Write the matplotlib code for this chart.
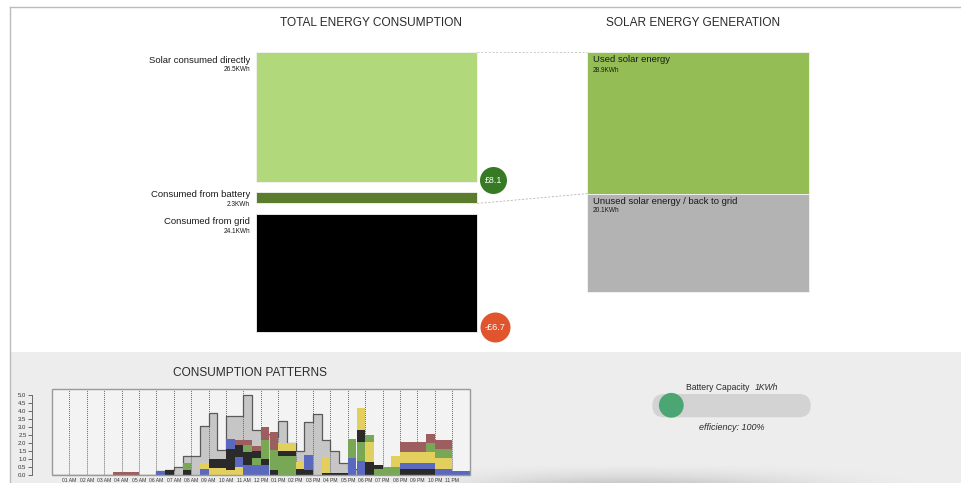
import numpy as np
import matplotlib
matplotlib.use('Agg')
import matplotlib.pyplot as plt
from matplotlib.patches import FancyBboxPatch, Rectangle, Circle

plt.rcParams['font.family'] = ['Liberation Sans', 'DejaVu Sans']

# ---------------- data ----------------
consumption_labels = ['Solar consumed directly', 'Consumed from battery', 'Consumed from grid']
consumption_kwh = [26.5, 2.3, 24.1]
consumption_colors = ['#b2d87c', '#5b7c2c', '#000000']

generation_labels = ['Used solar energy', 'Unused solar energy / back to grid']
generation_kwh = [28.9, 20.1]
generation_colors = ['#94be55', '#b3b3b3']

savings_label = '£8.1'
cost_label = '-£6.7'
battery_capacity = '1KWh'
efficiency_label = 'efficiency: 100%'

hour_labels = ['01 AM', '02 AM', '03 AM', '04 AM', '05 AM', '06 AM', '07 AM', '08 AM',
               '09 AM', '10 AM', '11 AM', '12 PM', '01 PM', '02 PM', '03 PM', '04 PM',
               '05 PM', '06 PM', '07 PM', '08 PM', '09 PM', '10 PM', '11 PM']
y_ticks = [0.0, 0.5, 1.0, 1.5, 2.0, 2.5, 3.0, 3.5, 4.0, 4.5, 5.0]

# half-hour bins, 00:00 .. 23:30
solar_generation = [0, 0, 0, 0, 0, 0, 0, 0, 0, 0, 0, 0,
                    0.28, 0.33, 0.5, 1.2, 1.2, 3.05, 3.85, 1.57, 3.68, 3.68, 4.98, 2.82,
                    2.6, 2.4, 3.4, 2.0, 1.51, 3.3, 3.82, 2.2, 1.5, 0.75, 0.4, 0,
                    0, 0, 0, 0, 0, 0, 0, 0, 0, 0, 0, 0]

load_black_a = [0, 0, 0, 0, 0, 0, 0, 0, 0, 0, 0, 0,
                0, 0.3, 0, 0.3, 0, 0, 0, 0, 0, 0, 0, 0,
                0, 0.35, 0, 0, 0.37, 0.35, 0, 0.17, 0.15, 0.15, 0, 0,
                0.8, 0, 0, 0, 0.41, 0.41, 0.41, 0.4, 0, 0, 0, 0]
load_blue_a = [0, 0, 0, 0, 0, 0, 0, 0, 0, 0, 0, 0,
               0.25, 0, 0, 0, 0, 0.37, 0, 0, 0, 0, 0.64, 0.65,
               0.64, 0, 0, 0, 0, 0.92, 0, 0, 0, 0, 1.06, 0.89,
               0, 0, 0, 0, 0.37, 0.37, 0.37, 0.38, 0.41, 0.41, 0.27, 0.27]
load_yellow_a = [0, 0, 0, 0, 0, 0, 0, 0, 0, 0, 0, 0,
                 0, 0, 0, 0, 0, 0.4, 0.43, 0.43, 0.35, 0.5, 0, 0,
                 0, 0, 0, 0, 0.45, 0, 0, 0.95, 0, 0, 0, 0,
                 1.3, 0, 0, 0, 0.67, 0.67, 0.67, 0.66, 0.68, 0.68, 0, 0]
load_black_b = [0, 0, 0, 0, 0, 0, 0, 0, 0, 0, 0, 0,
                0, 0, 0, 0, 0, 0, 0.57, 0.57, 1.27, 0, 0.83, 0,
                0.37, 0, 0, 0, 0, 0, 0, 0, 0, 0, 0, 0,
                0, 0, 0, 0, 0, 0, 0, 0, 0, 0, 0, 0]
load_blue_b = [0, 0, 0, 0, 0, 0, 0, 0, 0, 0, 0, 0,
               0, 0, 0, 0, 0, 0, 0, 0, 0.64, 0.62, 0, 0,
               0, 0, 0, 0, 0, 0, 0, 0, 0, 0, 0, 0,
               0, 0, 0, 0, 0, 0, 0, 0, 0, 0, 0, 0]
load_green_a = [0, 0, 0, 0, 0, 0, 0, 0, 0, 0, 0, 0,
                0, 0, 0, 0.47, 0, 0, 0, 0, 0, 0, 0.42, 0.45,
                1.2, 1.25, 1.2, 1.2, 0, 0, 0, 0, 0, 0, 1.2, 1.2,
                0.38, 0.42, 0.53, 0.53, 0, 0, 0, 0.6, 0.55, 0.55, 0, 0]
load_black_c = [0, 0, 0, 0, 0, 0, 0, 0, 0, 0, 0, 0,
                0, 0, 0, 0, 0, 0, 0, 0, 0, 0.77, 0, 0.4,
                0, 0, 0.33, 0.33, 0, 0, 0, 0, 0, 0, 0, 0.73,
                0, 0.25, 0, 0, 0, 0, 0, 0, 0, 0, 0, 0]
load_yellow_b = [0, 0, 0, 0, 0, 0, 0, 0, 0, 0, 0, 0,
                 0, 0, 0, 0, 0, 0, 0, 0, 0, 0, 0, 0,
                 0, 0, 0.5, 0.5, 0, 0, 0, 0, 0, 0, 0, 1.35,
                 0, 0, 0, 0.69, 0, 0, 0, 0, 0, 0, 0, 0]
load_brown = [0, 0, 0, 0, 0, 0, 0, 0.18, 0.18, 0.18, 0, 0,
              0, 0, 0, 0, 0, 0, 0, 0, 0, 0.31, 0.31, 0.3,
              0.78, 1.12, 0, 0, 0, 0, 0, 0, 0, 0, 0, 0,
              0, 0, 0, 0, 0.62, 0.62, 0.62, 0.55, 0.57, 0.57, 0, 0]

BLUE, YELLOW, BLACK, GREEN, BROWN = '#5a68bd', '#e3cf5e', '#2a2a2a', '#78a855', '#9c5e5e'
load_series = [(load_black_a, BLACK), (load_blue_a, BLUE), (load_yellow_a, YELLOW),
               (load_black_b, BLACK), (load_blue_b, BLUE), (load_green_a, GREEN),
               (load_black_c, BLACK), (load_yellow_b, YELLOW), (load_brown, BROWN)]

# ---------------- figure ----------------
W, H = 961, 483
fig = plt.figure(figsize=(W / 100, H / 100), dpi=100)
fig.patch.set_facecolor('white')

# page layer in pixel coordinates
pg = fig.add_axes([0, 0, 1, 1], zorder=0)
pg.set_xlim(0, W)
pg.set_ylim(H, 0)
pg.axis('off')

pg.add_patch(Rectangle((10.5, 352), W - 10.5, H - 352, color='#ededed', lw=0))
pg.plot([10, W], [7.3, 7.3], color='#bcbcbc', lw=1.0)
pg.plot([10, 10], [7.3, H], color='#bcbcbc', lw=1.0)

# bottom shadow
gx = np.linspace(0, 1, 300)
gy = np.linspace(0, 1, 30)
env = np.clip(np.sin(np.pi * gx) ** 0.8, 0, 1) * np.exp(-((gx - 0.3) ** 2) / 0.25)
alpha = (gy[:, None] ** 1.8) * env[None, :] * 0.16
shadow = np.zeros((30, 300, 4))
shadow[..., 3] = alpha
pg.imshow(shadow, extent=(430, 930, H, H - 22), aspect='auto', zorder=1, interpolation='bilinear')

pg.text(371, 23, 'TOTAL ENERGY CONSUMPTION', ha='center', va='center', fontsize=8.6, color='#2b2b2b')
pg.text(693, 23, 'SOLAR ENERGY GENERATION', ha='center', va='center', fontsize=8.6, color='#2b2b2b')
pg.text(250, 373, 'CONSUMPTION PATTERNS', ha='center', va='center', fontsize=8.6, color='#2b2b2b')

# ---------------- energy bars ----------------
PX_PER_KWH = 4.89
TOP_PX = 52.3
ax_top, ax_bot = 40, 345
ae = fig.add_axes([0, (H - ax_bot) / H, 1, (ax_bot - ax_top) / H], zorder=2)
ae.set_xlim(0, W)
ae.set_ylim((ax_bot - TOP_PX) / PX_PER_KWH, (ax_top - TOP_PX) / PX_PER_KWH)
ae.axis('off')
ae.patch.set_alpha(0)

gap = 10.3 / PX_PER_KWH
c_bottoms = []
acc = 0.0
for v in consumption_kwh:
    c_bottoms.append(acc)
    acc += v + gap
ae.bar(366.6, consumption_kwh, width=221, bottom=c_bottoms, color=consumption_colors,
       edgecolor='#f4f4f4', linewidth=0.6)
g_bottoms = list(np.cumsum([0] + generation_kwh[:-1]))
ae.bar(698.0, generation_kwh, width=221.4, bottom=g_bottoms, color=generation_colors,
       edgecolor='#f4f4f4', linewidth=0.6)

# connectors
ae.plot([477.2, 587.3], [0, 0], color='#c4c4c4', lw=0.6, ls=(0, (2.5, 2)))
ae.plot([477.2, 587.3], [c_bottoms[1] + consumption_kwh[1], generation_kwh[0]],
        color='#b4b4b4', lw=0.6, ls=(0, (2.5, 2)))

# value badges
green_y = consumption_kwh[0] - 0.35
red_y = c_bottoms[2] + consumption_kwh[2] - 0.85
ae.scatter([493.3], [green_y], s=(27 * 0.72) ** 2, color='#367a24', zorder=5, lw=0)
ae.text(493.3, green_y, savings_label, ha='center', va='center', color='white', fontsize=6.4, zorder=6)
ae.scatter([494.7], [red_y], s=(30 * 0.72) ** 2, color='#e0552d', zorder=5, lw=0)
ae.text(494.7, red_y, cost_label, ha='center', va='center', color='white', fontsize=6.6, zorder=6)

# labels (drawn in page pixel coordinates, on top of bars)
label_pos_left = [(60.3, 69.7), (194.3, 204.0), (222.0, 231.7)]
for lab, v, (ly, vy) in zip(consumption_labels, consumption_kwh, label_pos_left):
    ae.text(250, ly, lab, ha='right', va='center', fontsize=6.8, color='#1a1a1a',
            transform=pg.transData)
    ae.text(250, vy, f'{v}KWh', ha='right', va='center', fontsize=4.7, color='#1a1a1a',
            transform=pg.transData)
label_pos_right = [(60.0, 71.0), (201.0, 210.7)]
for lab, v, (ly, vy) in zip(generation_labels, generation_kwh, label_pos_right):
    ae.text(592.7, ly, lab, ha='left', va='center', fontsize=6.8, color='#1a1a1a', zorder=7,
            transform=pg.transData)
    ae.text(592.7, vy, f'{v}KWh', ha='left', va='center', fontsize=4.7, color='#1a1a1a', zorder=7,
            transform=pg.transData)

# ---------------- slider ----------------
pg.add_patch(FancyBboxPatch((652.3, 394.0), 158.4, 23.3,
                            boxstyle='round,pad=0,rounding_size=11.6',
                            color='#d3d3d3', lw=0, zorder=2))
pg.add_patch(Circle((671.3, 405.3), 12.4, color='#4ca673', lw=0, zorder=3))
pg.text(686.0, 387.3, 'Battery Capacity', ha='left', va='center', fontsize=6.2, color='#2b2b2b')
pg.text(755.0, 387.3, battery_capacity, ha='left', va='center', fontsize=6.2, color='#2b2b2b',
        style='italic')
pg.text(731.7, 427.0, efficiency_label, ha='center', va='center', fontsize=6.5, color='#2b2b2b',
        style='italic')

# ---------------- consumption patterns ----------------
x0, x1, yb, yt = 52.0, 469.6, 475.3, 389.4
ac = fig.add_axes([x0 / W, (H - yb) / H, (x1 - x0) / W, (yb - yt) / H], zorder=3)
ac.set_facecolor('#f3f3f3')
ac.set_xlim(0, 24)
ac.set_ylim(0, 5.35)

n = len(solar_generation)
edges = np.arange(n + 1) * 0.5
gen = np.array(solar_generation, dtype=float)
ac.fill_between(edges, np.append(gen, gen[-1]), step='post', color='#c6c6c6', lw=0, zorder=1)
ac.step(edges, np.append(gen, gen[-1]), where='post', color='#5a5a5a', lw=0.9, zorder=2)

ac.vlines(np.arange(1, 24), 0, 5.35, colors='#555555', linestyles=(0, (1, 1.2)), lw=0.65, zorder=2.5)

bottom = np.zeros(n)
for vals, col in load_series:
    v = np.array(vals, dtype=float)
    ac.bar(edges[:-1], v, width=0.5, align='edge', bottom=bottom, color=col, lw=0, zorder=3)
    bottom += v

for s in ['top', 'right', 'bottom']:
    ac.spines[s].set_visible(False)
ac.add_patch(Rectangle((0, 0), 1, 1, transform=ac.transAxes, fill=False, edgecolor='#9a9a9a',
                       lw=1.0, clip_on=False, zorder=4))
ac.spines['left'].set_position(('outward', 14.4))
ac.spines['left'].set_bounds(0, 5)
ac.spines['left'].set_color('#555555')
ac.spines['left'].set_linewidth(0.6)
ac.set_yticks(y_ticks)
ac.set_yticklabels([f'{t:.1f}' for t in y_ticks])
ac.tick_params(axis='y', length=3, width=0.5, labelsize=4.3, pad=1, colors='#333333')
ac.set_xticks(np.arange(1, 24))
ac.set_xticklabels(hour_labels)
ac.tick_params(axis='x', length=0, labelsize=3.6, pad=2, colors='#333333')

fig.savefig('out.png', dpi=100)
